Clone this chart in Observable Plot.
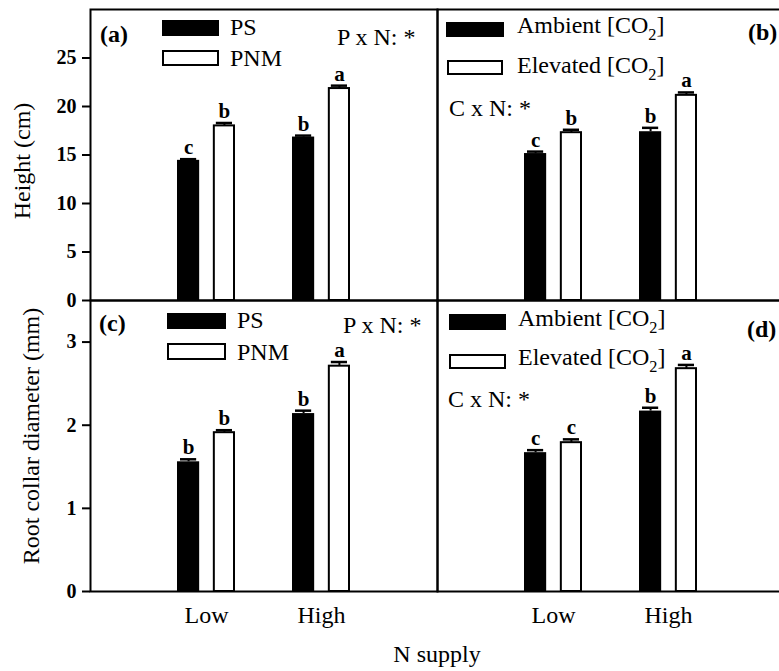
<!DOCTYPE html>
<html>
<head>
<meta charset="utf-8">
<script src="https://cdn.jsdelivr.net/npm/d3@7"></script>
<script src="https://cdn.jsdelivr.net/npm/@observablehq/plot@0.6"></script>
<style>
html, body { margin: 0; padding: 0; background: #fff; }
#chart { position: relative; width: 779px; height: 671px; overflow: hidden; background: #fff; }
#chart > svg { position: absolute; left: 0; }
#chart text { font-family: "Liberation Serif", "Times New Roman", serif; fill: #000; }
g[aria-label^="y-axis"] text { font-size: 20px; font-weight: bold; }
g[aria-label^="x-axis"] text { font-size: 24px; font-weight: normal; }
g[aria-label^="y-axis"] line, g[aria-label^="y-axis"] path { stroke-width: 2px; stroke: #000; }
</style>
</head>
<body>
<div id="chart"></div>
<script>
// ---------------- data ----------------
const nLevels = ["Low", "High"];
const legendP = ["PS", "PNM"];
const legendC = ["Ambient [CO₂]", "Elevated [CO₂]"];
const panelTags = ["(a)", "(b)", "(c)", "(d)"];
const interP = "P x N: *";
const interC = "C x N: *";
const yTitleTop = "Height (cm)";
const yTitleBottom = "Root collar diameter (mm)";
const xTitle = "N supply";
const heightTicks = [0, 5, 10, 15, 20, 25];
const diamTicks = [0, 1, 2, 3];

// Height (cm): [Low, High]
const hPS = [14.45, 16.85], hPS_se = [0.12, 0.15], hPS_let = ["c", "b"];
const hPNM = [18.0, 21.85], hPNM_se = [0.3, 0.3], hPNM_let = ["b", "a"];
const hAmb = [15.15, 17.4], hAmb_se = [0.2, 0.4], hAmb_let = ["c", "b"];
const hEle = [17.3, 21.15], hEle_se = [0.3, 0.3], hEle_let = ["b", "a"];
// Root collar diameter (mm): [Low, High]
const dPS = [1.56, 2.14], dPS_se = [0.03, 0.035], dPS_let = ["b", "b"];
const dPNM = [1.91, 2.71], dPNM_se = [0.03, 0.05], dPNM_let = ["b", "a"];
const dAmb = [1.67, 2.17], dAmb_se = [0.03, 0.04], dAmb_let = ["c", "b"];
const dEle = [1.79, 2.68], dEle_se = [0.04, 0.045], dEle_let = ["c", "a"];

function rows(panel, s, means, ses, lets) {
  return nLevels.map((n, i) => ({panel, s, n, mean: means[i], se: ses[i], top: means[i] + ses[i], letter: lets[i]}));
}
const topRows = [
  ...rows("L", 0, hPS, hPS_se, hPS_let), ...rows("L", 1, hPNM, hPNM_se, hPNM_let),
  ...rows("R", 0, hAmb, hAmb_se, hAmb_let), ...rows("R", 1, hEle, hEle_se, hEle_let)
];
const botRows = [
  ...rows("L", 0, dPS, dPS_se, dPS_let), ...rows("L", 1, dPNM, dPNM_se, dPNM_let),
  ...rows("R", 0, dAmb, dAmb_se, dAmb_let), ...rows("R", 1, dEle, dEle_se, dEle_let)
];

// ---------------- layout ----------------
const FONT = '"Liberation Serif", "Times New Roman", serif';
const W = 784, ML = 90;
const panelW = (W - ML) / 2;
const bandW = panelW / 6;
const barW = 22, capW = 16;
const off = bandW / 2 - barW / 2;

function makePlot(data, {height, marginTop, marginBottom, yDomain, yTicks, showX}) {
  return Plot.plot({
    width: W, height, marginLeft: ML, marginRight: 0, marginTop, marginBottom,
    style: {maxWidth: "none", overflow: "visible", background: "transparent", fontFamily: FONT, color: "#000"},
    facet: {data, x: "panel"},
    fx: {domain: ["L", "R"], padding: 0, axis: null, label: null},
    x: {domain: nLevels, paddingInner: 0.5, paddingOuter: 0.75, axis: showX ? "bottom" : null,
        tickSize: 0, tickPadding: 14, label: null},
    y: {domain: yDomain, ticks: yTicks, tickSize: 8, tickPadding: 6, label: null, tickFormat: d => String(d)},
    marks: [
      Plot.barY(data, {filter: d => d.s === 0, x: "n", y: "mean", fill: "#000", insetRight: bandW - barW}),
      Plot.barY(data, {filter: d => d.s === 1, x: "n", y: "mean", fill: "#fff", stroke: "#000", strokeWidth: 2,
                       insetLeft: bandW - barW + 1, insetRight: 1}),
      Plot.ruleX(data, {filter: d => d.s === 0, x: "n", y1: "mean", y2: "top", dx: -off, stroke: "#000", strokeWidth: 2}),
      Plot.ruleX(data, {filter: d => d.s === 1, x: "n", y1: "mean", y2: "top", dx: off, stroke: "#000", strokeWidth: 2}),
      Plot.tickY(data, {filter: d => d.s === 0, x: "n", y: "top", stroke: "#000", strokeWidth: 2.5,
                        insetLeft: barW / 2 - capW / 2, insetRight: bandW - barW / 2 - capW / 2}),
      Plot.tickY(data, {filter: d => d.s === 1, x: "n", y: "top", stroke: "#000", strokeWidth: 2.5,
                        insetLeft: bandW - barW / 2 - capW / 2, insetRight: barW / 2 - capW / 2}),
      Plot.text(data, {filter: d => d.s === 0, x: "n", y: "top", text: "letter", dx: -off, dy: -5,
                       lineAnchor: "bottom", fontSize: 21, fontWeight: "bold", fill: "#000"}),
      Plot.text(data, {filter: d => d.s === 1, x: "n", y: "top", text: "letter", dx: off, dy: -5,
                       lineAnchor: "bottom", fontSize: 21, fontWeight: "bold", fill: "#000"}),
      Plot.frame({stroke: "#000", strokeWidth: 2})
    ]
  });
}

const chart = document.getElementById("chart");
const topPlot = makePlot(topRows, {height: 302, marginTop: 9, marginBottom: 2, yDomain: [0, 30], yTicks: heightTicks, showX: false});
topPlot.style.top = "0px";
chart.appendChild(topPlot);
const botPlot = makePlot(botRows, {height: 381, marginTop: 10, marginBottom: 80, yDomain: [0, 3.5], yTicks: diamTicks, showX: true});
botPlot.style.top = "290px";
chart.appendChild(botPlot);

// ---------------- annotations (titles, legends, panel tags) ----------------
const ov = d3.select(chart).append("svg")
  .attr("width", 779).attr("height", 671)
  .style("position", "absolute").style("left", "0px").style("top", "0px")
  .style("pointer-events", "none");

function label(x, y, s, size = 24, weight = "normal") {
  const t = ov.append("text").attr("x", x).attr("y", y).attr("font-size", size).attr("font-weight", weight);
  const parts = s.split("₂");
  if (parts.length === 1) { t.text(s); return t; }
  t.append("tspan").text(parts[0]);
  t.append("tspan").attr("dy", 7).attr("font-size", size * 0.68).text("2");
  t.append("tspan").attr("dy", -7).text(parts[1]);
  return t;
}
function swatch(x, y, w, h, filled) {
  if (filled) ov.append("rect").attr("x", x).attr("y", y).attr("width", w).attr("height", h).attr("fill", "#000");
  else ov.append("rect").attr("x", x + 1).attr("y", y + 1).attr("width", w - 2).attr("height", h - 2)
          .attr("fill", "#fff").attr("stroke", "#000").attr("stroke-width", 2);
}

// axis titles
label(29.5, 161, yTitleTop).attr("text-anchor", "middle").attr("transform", "rotate(-90 29.5 161)");
label(39, 436, yTitleBottom).attr("text-anchor", "middle").attr("transform", "rotate(-90 39 436)");
label(437, 662, xTitle).attr("text-anchor", "middle");

// panel (a)
label(100, 42, panelTags[0], 24, "bold");
swatch(162, 20, 57, 16, true); swatch(162, 50, 57, 16, false);
label(230, 35, legendP[0]); label(230, 66, legendP[1]);
label(337, 45, interP);

// panel (b)
label(748, 40, panelTags[1], 24, "bold");
swatch(446, 22, 58, 15, true); swatch(447, 60, 56, 15, false);
label(517, 33, legendC[0]); label(517, 73, legendC[1]);
label(449, 116, interC);

// panel (c)
label(99, 331, panelTags[2], 24, "bold");
swatch(167, 313, 59, 16, true); swatch(167, 343, 59, 17, false);
label(237, 328, legendP[0]); label(237, 360, legendP[1]);
label(343, 333, interP);

// panel (d)
label(747, 337, panelTags[3], 24, "bold");
swatch(449, 314, 57, 16, true); swatch(449, 354, 57, 15, false);
label(518, 326, legendC[0]); label(518, 365, legendC[1]);
label(448, 407, interC);
</script>
</body>
</html>
